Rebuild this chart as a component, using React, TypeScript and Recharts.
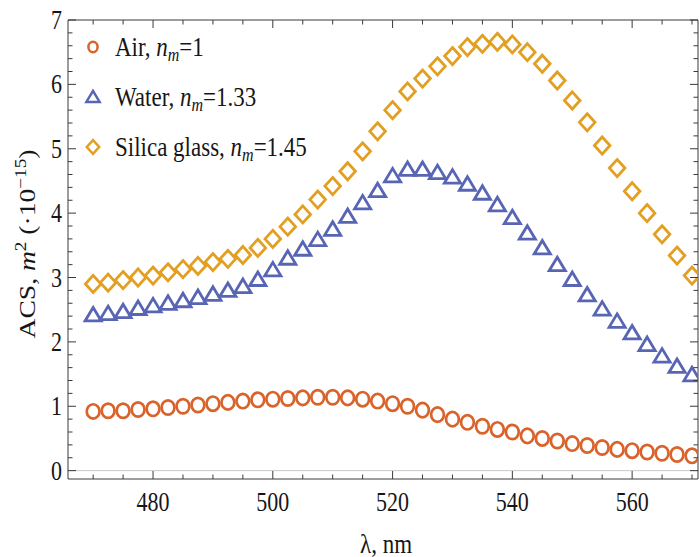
import React from 'react';
import { ScatterChart, Scatter, XAxis, YAxis, ReferenceLine, Legend } from 'recharts';

// Wavelength grid, nm
const wavelengths = [
  470, 472.5, 475, 477.5, 480, 482.5, 485, 487.5, 490, 492.5,
  495, 497.5, 500, 502.5, 505, 507.5, 510, 512.5, 515, 517.5,
  520, 522.5, 525, 527.5, 530, 532.5, 535, 537.5, 540, 542.5,
  545, 547.5, 550, 552.5, 555, 557.5, 560, 562.5, 565, 567.5, 570,
];

// Absorption cross-section, m^2 (x 1e-15)
const airAcs = [
  0.92, 0.93, 0.93, 0.95, 0.96, 0.98, 1.0, 1.02, 1.04, 1.06,
  1.08, 1.1, 1.11, 1.12, 1.13, 1.14, 1.14, 1.13, 1.11, 1.08,
  1.04, 1.0, 0.94, 0.87, 0.8, 0.75, 0.69, 0.64, 0.6, 0.54,
  0.5, 0.46, 0.42, 0.39, 0.36, 0.33, 0.31, 0.29, 0.27, 0.25, 0.23,
];
const waterAcs = [
  2.42, 2.44, 2.47, 2.52, 2.56, 2.6, 2.64, 2.69, 2.74, 2.8,
  2.86, 2.97, 3.12, 3.3, 3.44, 3.59, 3.75, 3.95, 4.16, 4.35,
  4.58, 4.68, 4.68, 4.63, 4.56, 4.45, 4.31, 4.13, 3.93, 3.69,
  3.46, 3.2, 2.97, 2.73, 2.51, 2.32, 2.14, 1.96, 1.78, 1.62, 1.49,
];
const silicaAcs = [
  2.9, 2.92, 2.96, 3.0, 3.03, 3.08, 3.13, 3.18, 3.24, 3.29,
  3.35, 3.46, 3.6, 3.79, 3.98, 4.21, 4.42, 4.65, 4.96, 5.27,
  5.6, 5.89, 6.09, 6.28, 6.44, 6.58, 6.63, 6.66, 6.62, 6.5,
  6.32, 6.06, 5.75, 5.41, 5.05, 4.7, 4.34, 4.0, 3.67, 3.34, 3.03,
];

// Axis ticks (minor + major); labelled ones are listed separately
const xTicks = [470, 475, 480, 485, 490, 495, 500, 505, 510, 515, 520, 525, 530, 535, 540, 545, 550, 555, 560, 565, 570];
const xLabelled = [480, 500, 520, 540, 560];
const yTicks = [
  0, 0.2, 0.4, 0.6, 0.8, 1, 1.2, 1.4, 1.6, 1.8, 2, 2.2, 2.4, 2.6, 2.8, 3, 3.2, 3.4, 3.6, 3.8,
  4, 4.2, 4.4, 4.6, 4.8, 5, 5.2, 5.4, 5.6, 5.8, 6, 6.2, 6.4, 6.6, 6.8, 7,
];
const yLabelled = [0, 1, 2, 3, 4, 5, 6, 7];

const X_DOMAIN: [number, number] = [465.8, 571];
const Y_DOMAIN: [number, number] = [-0.13, 7];

const ORANGE = '#d9632b';
const BLUE = '#5865b4';
const GOLD = '#e39f21';
const FRAME = '#3a3a3a';
const INK = '#161616';
const FONT = "'Liberation Serif', 'Times New Roman', serif";
const SY = 1.2; // vertical text stretch

const toPoints = (vals: number[]) => wavelengths.map((w, i) => ({ x: w, y: vals[i] }));

const airData = toPoints(airAcs);
const waterData = toPoints(waterAcs);
const silicaData = toPoints(silicaAcs);

type TxtProps = {
  x: number;
  y: number;
  size: number;
  anchor?: 'start' | 'middle' | 'end';
  rotate?: boolean;
  children: React.ReactNode;
};

const StretchedText = ({ x, y, size, anchor = 'start', rotate = false, children }: TxtProps) => (
  <text
    transform={`translate(${x},${y}) scale(1,${SY})${rotate ? ' rotate(-90)' : ''}`}
    textAnchor={anchor}
    fontFamily={FONT}
    fontSize={size}
    fill={INK}
  >
    {children}
  </text>
);

// Marker shapes
const circleShape = (r: number, w: number) => (p: any) => (
  <ellipse cx={p.cx} cy={p.cy} rx={r} ry={r * 1.12} fill="none" stroke={ORANGE} strokeWidth={w} />
);
const triangleShape = (h: number, w: number) => (p: any) => {
  const { cx, cy } = p;
  const pts = `${cx},${cy - h * 0.55} ${cx - h * 0.6},${cy + h * 0.45} ${cx + h * 0.6},${cy + h * 0.45}`;
  return <polygon points={pts} fill="none" stroke={BLUE} strokeWidth={w} strokeLinejoin="miter" />;
};
const diamondShape = (h: number, w: number) => (p: any) => {
  const { cx, cy } = p;
  const pts = `${cx},${cy - h * 1.1} ${cx + h},${cy} ${cx},${cy + h * 1.1} ${cx - h},${cy}`;
  return <polygon points={pts} fill="none" stroke={GOLD} strokeWidth={w} />;
};

// Frame ticks, drawn inward
const BottomTick = (p: any) => {
  const v = p.payload.value;
  const major = xLabelled.includes(v);
  return (
    <g>
      <line x1={p.x} x2={p.x} y1={p.y} y2={p.y - (major ? 8 : 4.5)} stroke={FRAME} strokeWidth={1} />
      {major && (
        <StretchedText x={p.x} y={p.y + 32} size={22} anchor="middle">
          {v}
        </StretchedText>
      )}
    </g>
  );
};
const TopTick = (p: any) => {
  const major = xLabelled.includes(p.payload.value);
  return <line x1={p.x} x2={p.x} y1={p.y} y2={p.y + (major ? 8 : 4.5)} stroke={FRAME} strokeWidth={1} />;
};
const LeftTick = (p: any) => {
  const v = p.payload.value;
  const major = yLabelled.includes(v);
  return (
    <g>
      <line x1={p.x} x2={p.x + (major ? 8 : 4.5)} y1={p.y} y2={p.y} stroke={FRAME} strokeWidth={1} />
      {major && (
        <StretchedText x={p.x - 6} y={p.y + 9} size={22} anchor="end">
          {v}
        </StretchedText>
      )}
    </g>
  );
};
const RightTick = (p: any) => {
  const major = yLabelled.includes(p.payload.value);
  return <line x1={p.x} x2={p.x - (major ? 8 : 4.5)} y1={p.y} y2={p.y} stroke={FRAME} strokeWidth={1} />;
};

const YTitle = (p: any) => {
  const vb = p.viewBox || { x: 0, y: 20, width: 68, height: 459 };
  return (
    <StretchedText x={35} y={vb.y + 224} size={23} anchor="middle" rotate>
      <tspan>ACS, </tspan>
      <tspan fontStyle="italic">m</tspan>
      <tspan fontSize={16} dy={-9}>2</tspan>
      <tspan dy={9}> (·10</tspan>
      <tspan fontSize={16} dy={-9}>−15</tspan>
      <tspan dy={9}>)</tspan>
    </StretchedText>
  );
};

const XTitle = (p: any) => {
  const vb = p.viewBox || { x: 68, y: 479, width: 630, height: 78 };
  return (
    <StretchedText x={vb.x + vb.width / 2 + 3} y={vb.y + 74} size={23} anchor="middle">
      λ, nm
    </StretchedText>
  );
};

const legendItems = [
  { name: 'Air, ', value: '1', shape: circleShape(4.6, 2.5) },
  { name: 'Water, ', value: '1.33', shape: triangleShape(11, 2.5) },
  { name: 'Silica glass, ', value: '1.45', shape: diamondShape(6.2, 2.5) },
];

const LegendBox = () => (
  <svg width={260} height={150} style={{ display: 'block', overflow: 'visible' }}>
    {legendItems.map((it, k) => {
      const cy = 25 + k * 50;
      return (
        <g key={it.name}>
          {it.shape({ cx: 13, cy })}
          <StretchedText x={35} y={cy + 9} size={23}>
            <tspan>{it.name}</tspan>
            <tspan fontStyle="italic">n</tspan>
            <tspan fontStyle="italic" fontSize={16} dy={4}>m</tspan>
            <tspan dy={-4}>={it.value}</tspan>
          </StretchedText>
        </g>
      );
    })}
  </svg>
);

export default function App() {
  return (
    <div style={{ position: 'absolute', left: 0, top: 0, width: 699, height: 557, background: '#fff' }}>
      <ScatterChart width={699} height={557} margin={{ top: 19, right: 0, bottom: 0, left: 0 }}>
        <XAxis
          xAxisId="bottom"
          dataKey="x"
          type="number"
          domain={X_DOMAIN}
          allowDataOverflow
          ticks={xTicks}
          interval={0}
          height={78}
          tickSize={0}
          tickMargin={0}
          tickLine={false}
          axisLine={{ stroke: FRAME, strokeWidth: 1 }}
          tick={(p: any) => <BottomTick {...p} />}
          label={(p: any) => <XTitle {...p} />}
        />
        <XAxis
          xAxisId="top"
          orientation="top"
          dataKey="x"
          type="number"
          domain={X_DOMAIN}
          allowDataOverflow
          ticks={xTicks}
          interval={0}
          height={1}
          tickSize={0}
          tickMargin={0}
          tickLine={false}
          axisLine={{ stroke: FRAME, strokeWidth: 1 }}
          tick={(p: any) => <TopTick {...p} />}
        />
        <YAxis
          yAxisId="left"
          dataKey="y"
          type="number"
          domain={Y_DOMAIN}
          allowDataOverflow
          ticks={yTicks}
          interval={0}
          width={68}
          tickSize={0}
          tickMargin={0}
          tickLine={false}
          axisLine={{ stroke: FRAME, strokeWidth: 1 }}
          tick={(p: any) => <LeftTick {...p} />}
          label={(p: any) => <YTitle {...p} />}
        />
        <YAxis
          yAxisId="right"
          orientation="right"
          dataKey="y"
          type="number"
          domain={Y_DOMAIN}
          allowDataOverflow
          ticks={yTicks}
          interval={0}
          width={1}
          tickSize={0}
          tickMargin={0}
          tickLine={false}
          axisLine={{ stroke: FRAME, strokeWidth: 1 }}
          tick={(p: any) => <RightTick {...p} />}
        />
        <ReferenceLine xAxisId="bottom" yAxisId="left" y={0} stroke="#c8c8c8" strokeWidth={1} />
        <Scatter
          name="Air"
          xAxisId="bottom"
          yAxisId="left"
          data={airData}
          shape={circleShape(6.4, 2.7)}
          isAnimationActive={false}
        />
        <Scatter
          name="Water"
          xAxisId="bottom"
          yAxisId="left"
          data={waterData}
          shape={triangleShape(13.5, 2.8)}
          isAnimationActive={false}
        />
        <Scatter
          name="Silica glass"
          xAxisId="bottom"
          yAxisId="left"
          data={silicaData}
          shape={diamondShape(7.8, 2.8)}
          isAnimationActive={false}
        />
        <Legend
          layout="vertical"
          align="center"
          verticalAlign="middle"
          wrapperStyle={{ left: 80, top: 22, width: 260, height: 150 }}
          content={() => <LegendBox />}
        />
      </ScatterChart>
    </div>
  );
}
